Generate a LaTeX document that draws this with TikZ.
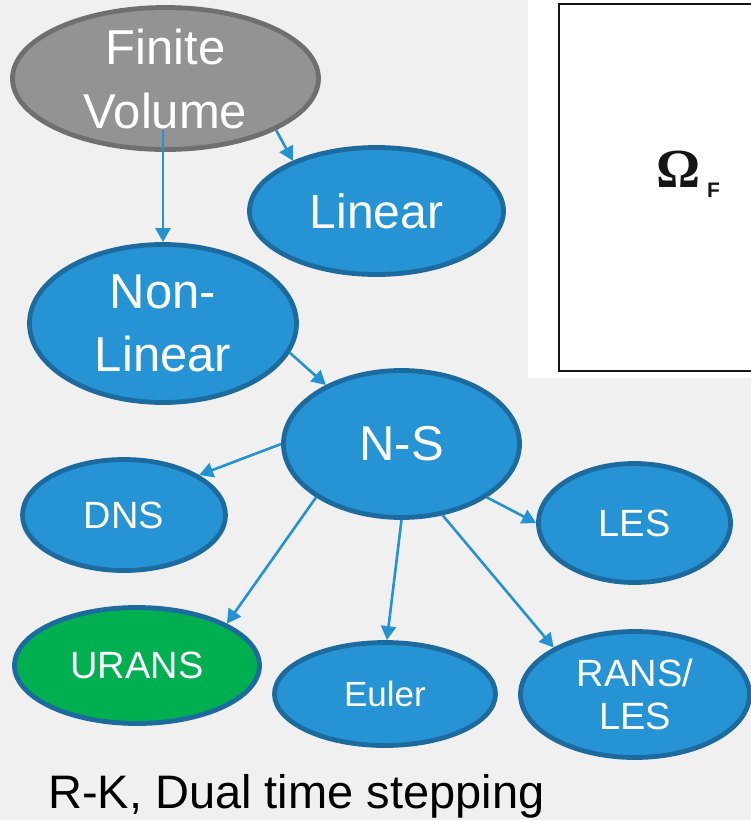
\documentclass[tikz,border=0pt]{standalone}
\usepackage{fontspec}
\setmainfont{Liberation Sans}
\newfontfamily\omegafont{Liberation Serif}
\usetikzlibrary{shapes.geometric,arrows.meta,calc}
\definecolor{bgc}{HTML}{F0F0F0}
\definecolor{nodeblue}{HTML}{2694D4}
\definecolor{nodeborder}{HTML}{1D6A9E}
\definecolor{arrowblue}{HTML}{2593D3}
\definecolor{greyfill}{HTML}{939393}
\definecolor{greyborder}{HTML}{6F6F6F}
\definecolor{greenfill}{HTML}{00B050}
\definecolor{framec}{HTML}{151515}
\begin{document}
\begin{tikzpicture}[x=1pt,y=-1pt,
  ell/.style={ellipse, draw=nodeborder, line width=4.8pt, fill=nodeblue, text=white, inner sep=0pt, align=center},
  arr/.style={draw=arrowblue, line width=2.6pt, -{Triangle[length=14pt,width=15pt]}},
  big/.style={font=\fontsize{49}{64}\selectfont},
  small/.style={font=\fontsize{38}{43}\selectfont}
]
\useasboundingbox (0,0) rectangle (751,820);
\fill[bgc] (0,0) rectangle (751,820);
% right panel
\fill[white] (528,0) rectangle (751,378);
\draw[line width=2.8pt, framec] (751,4) -- (559,4) -- (559,371) -- (751,371);
\node[anchor=base west, inner sep=0pt, text=framec] (omega) at (656,187) {\fontsize{55}{60}\selectfont\omegafont\bfseries Ω};
\node[anchor=base west, inner sep=0pt, text=framec] (sub) at (707,197) {\fontsize{21}{24}\selectfont\bfseries F};
% nodes
\node[ell, big, fill=greyfill, draw=greyborder, minimum width=306pt, minimum height=142pt] (fv) at (165.5,78.5) {Finite\\Volume};
\node[ell, font=\fontsize{48}{58}\selectfont, minimum width=254pt, minimum height=127pt] (lin) at (376.5,211) {Linear};
\node[ell, font=\fontsize{49}{63}\selectfont, minimum width=267pt, minimum height=158pt] (nl) at (163,323.5) {Non-\\Linear};
\node[ell, big, minimum width=236pt, minimum height=147pt] (ns) at (401.5,444) {N-S};
\node[ell, small, minimum width=203pt, minimum height=111pt] (dns) at (124,515) {DNS};
\node[ell, small, minimum width=192pt, minimum height=119pt] (les) at (634.5,523) {LES};
\node[ell, small, fill=greenfill, minimum width=245pt, minimum height=116pt] (urans) at (137,665.5) {URANS};
\node[ell, font=\fontsize{35}{42}\selectfont, minimum width=221pt, minimum height=103pt] (euler) at (385,694) {Euler};
\node[ell, small, minimum width=229pt, minimum height=126pt] (rl) at (635,694.5) {RANS/\\LES};
% caption
\node[anchor=base west, inner sep=0pt, font=\fontsize{47}{56}\selectfont, text=black] (caption) at (48,808) {R-K, Dual time stepping};
% connectors
\draw[arr] (fv.-25.2) -- (lin.149.5);
\draw[arr] ($(nl.north |- fv.south)+(0,-22)$) -- (nl.north);
\draw[arr] (nl.-13) -- (ns.142);
\draw[arr] (ns.180) -- (dns.28.4);
\draw[arr] (ns.-148) -- (urans.25.8);
\draw[arr] (ns.-90) -- (euler.88);
\draw[arr] (ns.-32.4) -- (les.180);
\draw[arr] (ns.-60.2) -- (rl.150.4);
\end{tikzpicture}
\end{document}
